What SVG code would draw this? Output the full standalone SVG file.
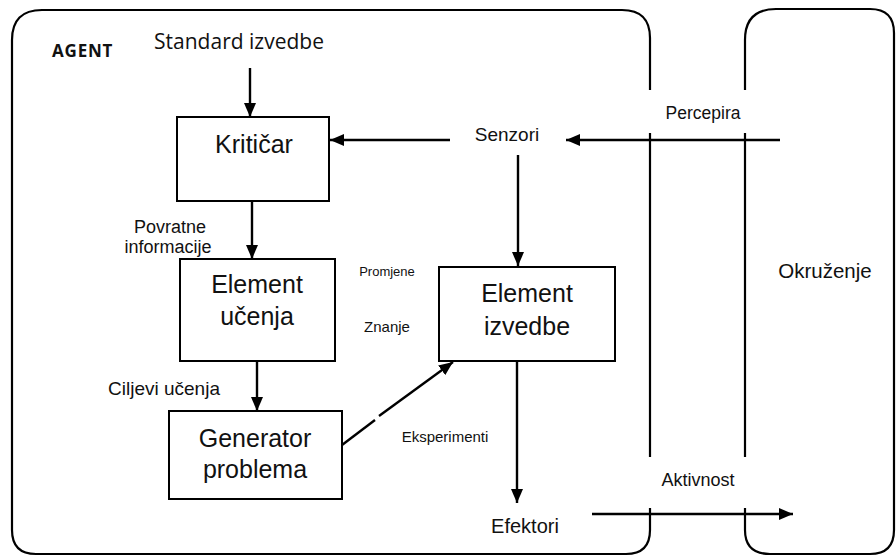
<svg xmlns="http://www.w3.org/2000/svg" width="896" height="557" viewBox="0 0 896 557">
  <defs>
    <marker id="arr" viewBox="0 0 14 12" refX="14" refY="6" markerWidth="14" markerHeight="12" markerUnits="userSpaceOnUse" orient="auto">
      <path d="M0,0 L14,6 L0,12 z" fill="#000"/>
    </marker>
    <style>
      .frame { fill: none; stroke: #000; stroke-width: 2.2; }
      .box { fill: #fff; stroke: #000; stroke-width: 2; }
      .edge { fill: none; stroke: #000; stroke-width: 2.4; }
      .arrow { fill: none; stroke: #000; stroke-width: 2.4; marker-end: url(#arr); }
      .big { font-family: "Liberation Sans", Arial, sans-serif; font-size: 25px; fill: #111; text-anchor: middle; }
      .lbl { font-family: "Liberation Sans", Arial, sans-serif; fill: #111; }
      .os { font-family: "Open Sans", "Liberation Sans", sans-serif; fill: #111; }
    </style>
  </defs>
  <rect width="896" height="557" fill="#fff"/>

  <g id="agent">
    <path class="frame" d="M650,90 L650,38 Q650,10 622,10 L42,10 Q12,10 12,40 L12,530 Q12,554 36,554 L626,554 Q650,554 650,530 L650,508"/>
    <path class="frame" d="M650,133 L650,457"/>
    <text class="os" x="52" y="57" font-size="17" font-weight="bold" letter-spacing="0.8">AGENT</text>
  </g>

  <g id="environment">
    <path class="frame" d="M745,90 L745,40 Q745,9 776,9 L870,9 Q894,9 894,33 L894,530 Q894,554 870,554 L770,554 Q745,554 745,530 L745,508"/>
    <path class="frame" d="M745,133 L745,457"/>
    <text class="lbl" x="825" y="278" font-size="20.5" text-anchor="middle">Okruženje</text>
  </g>

  <g id="standard">
    <text class="os" x="239" y="49" font-size="21" text-anchor="middle">Standard izvedbe</text>
  </g>

  <g id="kriticar">
    <rect class="box" x="177" y="117" width="152" height="84"/>
    <text class="big" x="254" y="153">Kritičar</text>
  </g>

  <g id="senzori">
    <text class="lbl" x="507" y="141" font-size="19" text-anchor="middle" fill="#2a3550">Senzori</text>
  </g>

  <g id="element-ucenja">
    <rect class="box" x="180" y="259" width="155" height="102"/>
    <text class="big" x="257" y="293">Element</text>
    <text class="big" x="257" y="325">učenja</text>
  </g>

  <g id="element-izvedbe">
    <rect class="box" x="439" y="267" width="176" height="94"/>
    <text class="big" x="527" y="302">Element</text>
    <text class="big" x="527" y="335">izvedbe</text>
  </g>

  <g id="generator">
    <rect class="box" x="169" y="411" width="173" height="88"/>
    <text class="big" x="255" y="447">Generator</text>
    <text class="big" x="255" y="478">problema</text>
  </g>

  <g id="efektori">
    <text class="lbl" x="525" y="533" font-size="20" text-anchor="middle">Efektori</text>
  </g>

  <g id="connectors">
    <path class="arrow" d="M250,68 L250,117"/>
    <path class="arrow" d="M450,140 L330,140"/>
    <path class="arrow" d="M780,140 L566,140"/>
    <path class="arrow" d="M518,155 L518,266"/>
    <path class="arrow" d="M252,201 L252,259"/>
    <path class="arrow" d="M257,361 L257,411"/>
    <path class="edge" d="M342,445 L375,420"/>
    <path class="arrow" d="M379,416 L453,362"/>
    <path class="arrow" d="M517,361 L517,503"/>
    <path class="arrow" d="M592,514 L793,514"/>
  </g>

  <g id="labels">
    <text class="lbl" x="170" y="233" font-size="18" text-anchor="middle">Povratne</text>
    <text class="lbl" x="168" y="253" font-size="18" text-anchor="middle">informacije</text>
    <text class="lbl" x="387" y="276" font-size="13" text-anchor="middle">Promjene</text>
    <text class="lbl" x="387" y="332" font-size="15" text-anchor="middle">Znanje</text>
    <text class="lbl" x="164" y="395" font-size="19" text-anchor="middle">Ciljevi učenja</text>
    <text class="lbl" x="445" y="442" font-size="15" text-anchor="middle">Eksperimenti</text>
    <text class="lbl" x="703" y="119" font-size="17.5" text-anchor="middle">Percepira</text>
    <text class="lbl" x="698" y="486" font-size="18" text-anchor="middle">Aktivnost</text>
  </g>
</svg>
